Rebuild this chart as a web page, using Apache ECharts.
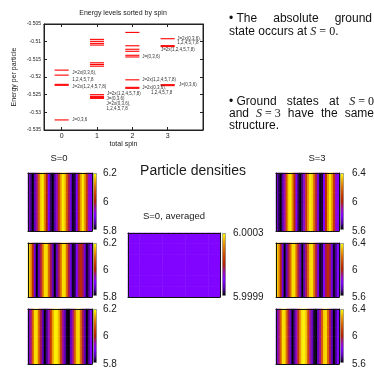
<!DOCTYPE html>
<html>
<head>
<meta charset="utf-8">
<script src="https://cdn.jsdelivr.net/npm/echarts@6/dist/echarts.min.js"></script>
<style>
html, body { margin: 0; padding: 0; background: #fff; }
#main { width: 374px; height: 369px; }
</style>
</head>
<body>
<div id="main"></div>
<script>
// ---- energy levels (energy per particle), per total spin ----
var spinTicks = [0, 1, 2, 3];
var levelsS0 = [-0.51805, -0.51947, -0.52208, -0.52236, -0.53215];
var levelsS1 = [-0.50935, -0.50991, -0.51048, -0.51096, -0.51598, -0.51646, -0.51694, -0.52500, -0.52548, -0.52577, -0.52605];
var levelsS2 = [-0.50738, -0.51116, -0.51215, -0.51272, -0.51385, -0.51433, -0.52080, -0.52293, -0.52321];
var levelsS3 = [-0.50917, -0.51112, -0.51140, -0.52216, -0.52244];

// J labels: [spin, energy, text]
var jLabels = [
    [0.30, -0.51890, 'J=2x(0,3,6),'],
    [0.30, -0.52080, '1,2,4,5,7,8'],
    [0.30, -0.52279, 'J=2x(1,2,4,5,7,8)'],
    [0.30, -0.53215, 'J=0,3,6'],
    [1.28, -0.52486, 'J=2x(1,2,4,5,7,8)'],
    [1.27, -0.52619, 'J=(0,3,6)'],
    [1.27, -0.52753, 'J=2x(0,3,6),'],
    [1.27, -0.52894, '1,2,4,5,7,8'],
    [2.28, -0.51419, 'J=(0,3,6)'],
    [2.28, -0.52080, 'J=2x(1,2,4,5,7,8)'],
    [2.28, -0.52299, 'J=2x(0,3,6),'],
    [2.53, -0.52458, '1,2,4,5,7,8'],
    [3.27, -0.50917, 'J=2x(0,3,6),'],
    [3.27, -0.51039, '1,2,4,5,7,8'],
    [2.81, -0.51229, 'J=2x(1,2,4,5,7,8)'],
    [3.32, -0.52222, 'J=(0,3,6)']
];

// ---- particle density profiles (across x, one value per column) ----
var densS0a = [5.92,5.84,5.80,5.86,5.96,6.08,6.17,6.19,6.12,6.00,5.90,5.83,5.80,5.85,5.94,6.04,6.14,6.19,6.17,6.08,5.98,5.88,5.81,5.82,5.90,6.02,6.14,6.19,6.14,6.04,5.94,5.90];
var densS0b = [6.18,6.14,6.02,5.88,5.80,5.86,5.98,6.10,6.18,6.18,6.10,5.98,5.86,5.80,5.86,5.98,6.10,6.18,6.18,6.10,5.98,5.88,5.81,5.82,5.90,5.98,6.02,5.98,5.88,5.81,5.84,5.90];
var densS0c = [5.88,5.96,6.08,6.18,6.18,6.10,5.98,5.86,5.80,5.84,5.94,6.04,6.14,6.19,6.19,6.16,6.06,5.96,5.86,5.81,5.80,5.86,5.96,6.08,6.17,6.18,6.10,5.98,5.86,5.80,5.84,5.90];
var densS3a = [5.82,5.66,5.60,5.70,5.90,6.14,6.34,6.38,6.26,6.02,5.80,5.65,5.60,5.68,5.86,6.08,6.28,6.38,6.34,6.18,5.96,5.76,5.62,5.63,5.80,6.04,6.28,6.38,6.29,6.08,5.88,5.80];
var densS3b = [6.36,6.28,6.04,5.76,5.60,5.72,5.96,6.20,6.36,6.36,6.20,5.96,5.72,5.60,5.72,5.96,6.20,6.36,6.36,6.20,5.96,5.76,5.62,5.64,5.80,5.96,6.04,5.96,5.76,5.62,5.68,5.80];
var densS3c = [5.76,5.92,6.16,6.36,6.36,6.20,5.96,5.72,5.60,5.68,5.88,6.08,6.28,6.38,6.38,6.32,6.12,5.92,5.72,5.62,5.60,5.72,5.92,6.16,6.34,6.36,6.20,5.96,5.72,5.60,5.68,5.80];
var densAvg = [6.0000,6.0000,6.0000,6.0000,6.0000,6.0000,6.0000,6.0000,6.0000,6.0000,6.0000,6.0000,6.0000,6.0000,6.0000,6.0000];

var rangeS0 = [5.8, 6.2], ticksS0 = [5.8, 6, 6.2];
var rangeS3 = [5.6, 6.4], ticksS3 = [5.6, 6, 6.4];
var rangeAvg = [5.9999, 6.0003], ticksAvg = [5.9999, 6.0003];

// ---- side notes ----
var noteLines = [
    [[['\u2022 The', 'n']], [['absolute', 'n']], [['ground', 'n']]],
    [[['state', 'n']], [['occurs', 'n']], [['at', 'n']], [['S', 'i'], [' = 0', 'r'], ['.', 'n']]],
    [[['\u2022 Ground', 'n']], [['states', 'n']], [['at', 'n']], [['S', 'i'], [' = 0', 'r']]],
    [[['and', 'n']], [['S', 'i'], [' = 3', 'r']], [['have', 'n']], [['the', 'n']], [['same', 'n']]],
    [[['structure.', 'n']]]
];

// gnuplot default palette (rgbformulae 7,5,15)
var palette = ['#000000', '#5a00b4', '#8004ff', '#9c0db4', '#b42000', '#ca3e00', '#dd6c00', '#efab00', '#ffff00'];

var TXT = '#1a1a1a';
var FONT = 'Liberation Sans';

var grids = [], xAxes = [], yAxes = [], series = [], visualMaps = [], graphics = [];

// ---------- energy level chart ----------
grids.push({left: 44, top: 24, width: 159, height: 106, show: true, borderColor: '#222', borderWidth: 1});
xAxes.push({
    gridIndex: 0, type: 'value', min: -0.5, max: 4,
    name: 'total spin', nameLocation: 'middle', nameGap: 11,
    nameTextStyle: {fontSize: 7, color: TXT, fontFamily: FONT},
    axisLine: {onZero: false, lineStyle: {color: '#222'}},
    axisTick: {inside: true, length: 3, customValues: spinTicks, lineStyle: {color: '#222'}},
    axisLabel: {customValues: spinTicks, fontSize: 7, margin: 3, color: TXT, fontFamily: FONT},
    splitLine: {show: false}
});
xAxes.push({
    gridIndex: 0, type: 'value', min: -0.5, max: 4, position: 'top',
    axisLine: {onZero: false, lineStyle: {color: '#222'}},
    axisTick: {inside: true, length: 3, customValues: spinTicks, lineStyle: {color: '#222'}},
    axisLabel: {show: false}, splitLine: {show: false}
});
yAxes.push({
    gridIndex: 0, type: 'value', min: -0.535, max: -0.505, interval: 0.005,
    name: 'Energy per particle', nameLocation: 'middle', nameGap: 26,
    nameTextStyle: {fontSize: 7, color: TXT, fontFamily: FONT},
    axisLine: {show: true, onZero: false, lineStyle: {color: '#222'}},
    axisTick: {inside: true, length: 3, lineStyle: {color: '#222'}},
    axisLabel: {fontSize: 5, margin: 3, color: TXT, fontFamily: FONT},
    splitLine: {show: false}
});
yAxes.push({
    gridIndex: 0, type: 'value', min: -0.535, max: -0.505, interval: 0.005, position: 'right',
    axisLine: {show: true, onZero: false, lineStyle: {color: '#222'}},
    axisTick: {inside: true, length: 3, lineStyle: {color: '#222'}},
    axisLabel: {show: false}, splitLine: {show: false}
});

var levelData = [];
[levelsS0, levelsS1, levelsS2, levelsS3].forEach(function (arr, s) {
    arr.forEach(function (e) { levelData.push([spinTicks[s], e]); });
});
series.push({
    type: 'custom', xAxisIndex: 0, yAxisIndex: 0, silent: true,
    data: levelData,
    renderItem: function (params, api) {
        var s = api.value(0), e = api.value(1);
        var p1 = api.coord([s - 0.2, e]), p2 = api.coord([s + 0.2, e]);
        return {type: 'line', shape: {x1: p1[0], y1: p1[1], x2: p2[0], y2: p2[1]},
                style: {stroke: '#ff0000', lineWidth: 1.1}};
    }
});
series.push({
    type: 'custom', xAxisIndex: 0, yAxisIndex: 0, silent: true, clip: false,
    data: jLabels.map(function (d) { return [d[0], d[1]]; }),
    renderItem: function (params, api) {
        var p = api.coord([api.value(0), api.value(1)]);
        return {type: 'text', x: p[0], y: p[1],
                style: {text: jLabels[params.dataIndex][2], fill: '#333', fontSize: 4.5,
                        fontFamily: FONT, align: 'left', verticalAlign: 'middle'}};
    }
});

// ---------- density maps ----------
var NROWS = 6;
function addHeatmap(prof, rect, range, ticks, cbLeft, labelMargin) {
    var g = grids.length;
    var cols = prof.map(function (v, i) { return i; });
    var rows = [];
    for (var r = 0; r < NROWS; r++) rows.push(r);
    var half = prof.length / 2;
    grids.push({left: rect[0], top: rect[1], width: rect[2], height: rect[3]});
    var xBase = {
        gridIndex: g, type: 'category', data: cols, z: 5,
        axisLine: {show: true, onZero: false, lineStyle: {color: '#111', width: 1}},
        axisTick: {show: true, inside: true, length: 3, lineStyle: {color: '#111'},
                   interval: function (i) { return i === half; }},
        axisLabel: {show: false}, splitLine: {show: false}
    };
    xAxes.push(xBase);
    xAxes.push(Object.assign({}, xBase, {position: 'top'}));
    var yBase = {
        gridIndex: g, type: 'category', data: rows, z: 5,
        axisLine: {show: true, onZero: false, lineStyle: {color: '#111', width: 1}},
        axisTick: {show: false}, axisLabel: {show: false}, splitLine: {show: false}
    };
    var yIdx = yAxes.length;
    yAxes.push(yBase);
    yAxes.push(Object.assign({}, yBase, {position: 'right'}));
    var data = [];
    rows.forEach(function (r) {
        prof.forEach(function (v, c) { data.push([c, r, v]); });
    });
    var sIdx = series.length;
    series.push({type: 'heatmap', xAxisIndex: xAxes.length - 2, yAxisIndex: yIdx,
                 data: data, silent: true, progressive: 0});
    visualMaps.push({
        type: 'continuous', seriesIndex: sIdx, min: range[0], max: range[1],
        left: cbLeft, top: rect[1], itemWidth: 3, itemHeight: rect[3] - 2,
        padding: 0, borderColor: '#8a8a8a', borderWidth: 1,
        calculable: false, hoverLink: false, inRange: {color: palette}
    });
    // colour bar tick labels
    var gl = grids.length;
    grids.push({left: cbLeft, top: rect[1], width: 4, height: rect[3]});
    xAxes.push({gridIndex: gl, type: 'value', show: false});
    yAxes.push({
        gridIndex: gl, type: 'value', min: range[0], max: range[1], position: 'right',
        axisLine: {show: false}, axisTick: {show: false}, splitLine: {show: false},
        axisLabel: {customValues: ticks, fontSize: 10, margin: labelMargin, color: TXT, fontFamily: FONT}
    });
}

addHeatmap(densS0a, [28, 173, 64, 58], rangeS0, ticksS0, 93, 6);
addHeatmap(densS0b, [28, 243, 64, 54], rangeS0, ticksS0, 93, 6);
addHeatmap(densS0c, [28, 309, 64, 55], rangeS0, ticksS0, 93, 6);
addHeatmap(densAvg, [128, 233, 92, 64], rangeAvg, ticksAvg, 222, 7);
addHeatmap(densS3a, [276, 173, 63, 58], rangeS3, ticksS3, 340, 8);
addHeatmap(densS3b, [276, 243, 63, 54], rangeS3, ticksS3, 340, 8);
addHeatmap(densS3c, [276, 309, 63, 55], rangeS3, ticksS3, 340, 8);

// ---------- side notes (justified like the LaTeX original) ----------
var FONTS = {
    n: '12px "Liberation Sans"',
    i: 'italic 12px "Liberation Serif"',
    r: '12px "Liberation Serif"'
};
var mctx = document.createElement('canvas').getContext('2d');
function partW(p) { mctx.font = FONTS[p[1]]; return mctx.measureText(p[0]).width; }
function wordW(w) { return w.reduce(function (s, p) { return s + partW(p); }, 0); }
var lineLayout = [
    {y: 19, x0: 229, x1: 372, justify: true},
    {y: 32, x0: 229, justify: false},
    {y: 102, x0: 229, x1: 374, justify: true},
    {y: 114, x0: 229, x1: 374, justify: true},
    {y: 126, x0: 229, justify: false}
];
noteLines.forEach(function (words, li) {
    var lay = lineLayout[li];
    var total = words.reduce(function (s, w) { return s + wordW(w); }, 0);
    var gap = lay.justify ? (lay.x1 - lay.x0 - total) / (words.length - 1) : partW([' ', 'n']);
    var x = lay.x0;
    words.forEach(function (w) {
        w.forEach(function (p) {
            graphics.push({type: 'text', x: x, y: lay.y, silent: true,
                           style: {text: p[0], font: FONTS[p[1]], fill: '#111', textVerticalAlign: 'middle'}});
            x += partW(p);
        });
        x += gap;
    });
});

var titleStyle = function (size) { return {fontSize: size, fontWeight: 'normal', color: TXT, fontFamily: FONT}; };
var option = {
    animation: false,
    title: [
        {text: 'Energy levels sorted by spin', left: 123, top: 9.5, textAlign: 'center', padding: 0, textStyle: titleStyle(7)},
        {text: 'Particle densities', left: 193, top: 164, textAlign: 'center', padding: 0, textStyle: titleStyle(14)},
        {text: 'S=0', left: 59, top: 153, textAlign: 'center', padding: 0, textStyle: titleStyle(9.5)},
        {text: 'S=3', left: 317, top: 153, textAlign: 'center', padding: 0, textStyle: titleStyle(9.5)},
        {text: 'S=0, averaged', left: 174, top: 211, textAlign: 'center', padding: 0, textStyle: titleStyle(9.5)}
    ],
    grid: grids,
    xAxis: xAxes,
    yAxis: yAxes,
    visualMap: visualMaps,
    series: series,
    graphic: graphics
};

var myChart = echarts.init(document.getElementById('main'));
myChart.setOption(option);
</script>
</body>
</html>
